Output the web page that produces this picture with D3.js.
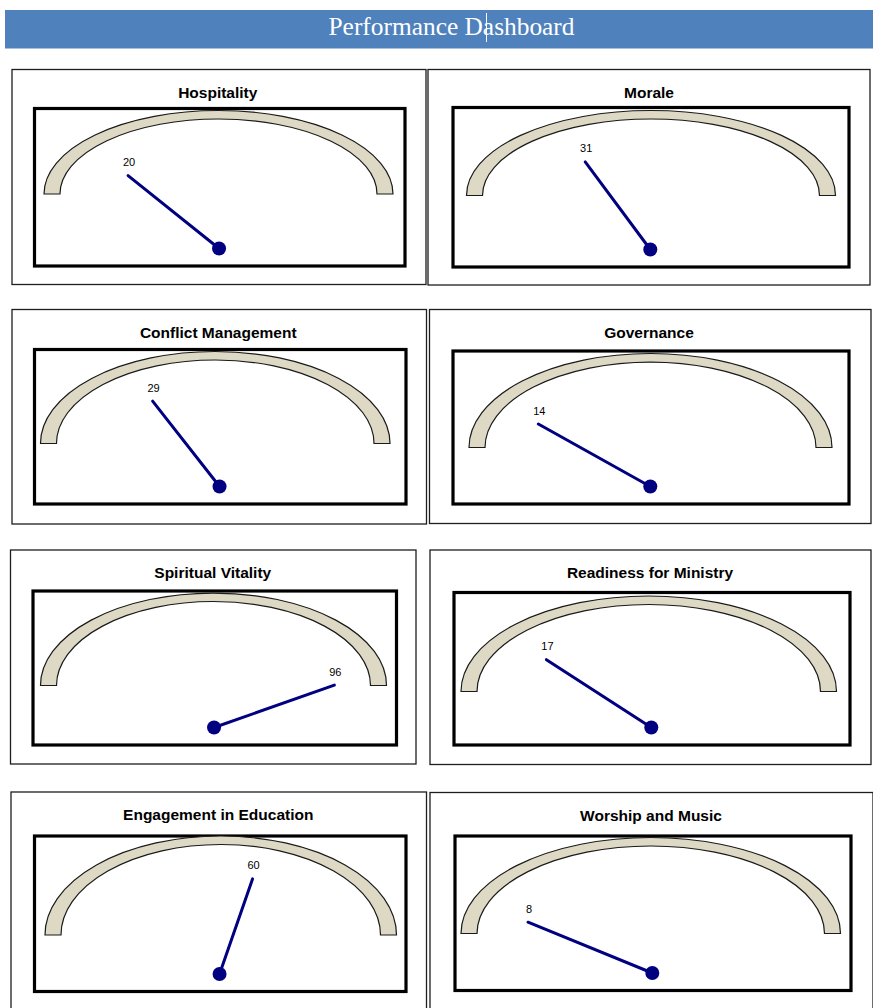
<!DOCTYPE html>
<html>
<head>
<meta charset="utf-8">
<script src="https://cdn.jsdelivr.net/npm/d3@7"></script>
<style>
  html, body { margin: 0; padding: 0; background: #ffffff; }
  svg { display: block; }
</style>
</head>
<body>
<div id="chart"></div>
<script>
// ---- data ----
const pageTitle = "Performance Dashboard";
const gaugeNames = [
  "Hospitality", "Morale",
  "Conflict Management", "Governance",
  "Spiritual Vitality", "Readiness for Ministry",
  "Engagement in Education", "Worship and Music"
];
const gaugeValues = [20, 31, 29, 14, 96, 17, 60, 8];
const gaugeDomain = [0, 100];

// ---- layout: frame of each panel, its dial box and its arc extent ----
// outer / dial: [x0, y0, x1, y1]; arc: [left, top, right, base]
const panelFrames = [
  { outer: [12, 69.5, 426, 284.5],  dial: [34.5, 108.5, 405, 266],   arc: [44, 110.5, 393, 194] },
  { outer: [428, 69.5, 870, 285],   dial: [453, 107.5, 849, 267],    arc: [466.5, 110.5, 835.5, 195.5] },
  { outer: [12, 309.5, 426.5, 524], dial: [34.5, 349.5, 406, 504],   arc: [40.5, 351.5, 390, 443.5] },
  { outer: [429.5, 309.5, 871, 523.5], dial: [453, 351, 849, 504],   arc: [469, 353.5, 832, 447.5] },
  { outer: [10.5, 550, 416, 764],   dial: [33, 591, 396.5, 745],     arc: [40.5, 593, 386.5, 685.5] },
  { outer: [430, 550, 871, 764.5],  dial: [454, 592.5, 850, 745],    arc: [461, 596, 836.5, 691.5] },
  { outer: [11, 792, 426.5, 1020],  dial: [34.5, 836, 406, 991.5],   arc: [45, 836, 396.5, 935] },
  { outer: [430, 792.5, 873, 1020], dial: [455, 836, 851, 990.5],    arc: [461, 837.5, 840.5, 933.5] }
];

const W = 873, H = 1008;
const svg = d3.select("#chart").append("svg")
  .attr("width", W).attr("height", H)
  .attr("viewBox", `0 0 ${W} ${H}`);

// ---- page heading bar ----
svg.append("rect")
  .attr("x", 5).attr("y", 10).attr("width", W - 5).attr("height", 38.5)
  .attr("fill", "#4f81bd");
svg.append("text")
  .attr("x", 451.5).attr("y", 34.5)
  .attr("text-anchor", "middle")
  .attr("font-family", "'Liberation Serif', 'DejaVu Serif', serif")
  .attr("font-size", 25.5)
  .attr("textLength", 246)
  .attr("lengthAdjust", "spacingAndGlyphs")
  .attr("fill", "#ffffff")
  .text(pageTitle);
// text caret
svg.append("line")
  .attr("x1", 486.5).attr("x2", 486.5).attr("y1", 13).attr("y2", 42)
  .attr("stroke", "#ffffff").attr("stroke-width", 1);

// value -> needle angle (degrees, measured from the left horizontal)
const angleScale = d3.scaleLinear().domain(gaugeDomain).range([20, 160]);

const gauges = gaugeNames.map((name, i) => ({ name, value: gaugeValues[i], frame: panelFrames[i] }));

const panel = svg.selectAll("g.panel")
  .data(gauges)
  .join("g")
  .attr("class", "panel");

// outer frame
panel.append("rect")
  .attr("x", d => d.frame.outer[0])
  .attr("y", d => d.frame.outer[1])
  .attr("width", d => d.frame.outer[2] - d.frame.outer[0])
  .attr("height", d => d.frame.outer[3] - d.frame.outer[1])
  .attr("fill", "#ffffff")
  .attr("stroke", "#1e1e1e")
  .attr("stroke-width", 1.3);

// title
panel.append("text")
  .attr("x", d => (d.frame.dial[0] + d.frame.dial[2]) / 2 - 2)
  .attr("y", d => d.frame.outer[1] + 28)
  .attr("text-anchor", "middle")
  .attr("font-family", "'Liberation Sans', Arial, sans-serif")
  .attr("font-weight", "bold")
  .attr("font-size", 15.5)
  .attr("fill", "#000000")
  .text(d => d.name);

// dial box
panel.append("rect")
  .attr("x", d => d.frame.dial[0])
  .attr("y", d => d.frame.dial[1])
  .attr("width", d => d.frame.dial[2] - d.frame.dial[0])
  .attr("height", d => d.frame.dial[3] - d.frame.dial[1])
  .attr("fill", "#ffffff")
  .attr("stroke", "#000000")
  .attr("stroke-width", 3.2);

// scale band: half-ellipse ring with flat ends
const bandSide = 16, bandTop = 8.5;
function bandPath(a) {
  const [l, t, r, base] = a;
  const cx = (l + r) / 2;
  const Rx = (r - l) / 2, Ry = base - t;
  const rx = Rx - bandSide, ry = Ry - bandTop;
  return `M${cx - Rx},${base}` +
    `A${Rx},${Ry} 0 0 1 ${cx + Rx},${base}` +
    `L${cx + rx},${base}` +
    `A${rx},${ry} 0 0 0 ${cx - rx},${base}Z`;
}
panel.append("path")
  .attr("d", d => bandPath(d.frame.arc))
  .attr("fill", "#ddd9c4")
  .attr("stroke", "#1a1a1a")
  .attr("stroke-width", 1.2);

// needle geometry
function pivotOf(d) {
  const [x0, , x1, y1] = d.frame.dial;
  return [(x0 + x1) / 2 - 0.7, y1 - 17.5];
}
function tipOf(d) {
  const [px, py] = pivotOf(d);
  const w = d.frame.dial[2] - d.frame.dial[0];
  const a = 0.367 * w, b = 98;
  const th = angleScale(d.value) * Math.PI / 180;
  return [px - a * Math.cos(th), py - b * Math.sin(th)];
}

panel.append("line")
  .attr("x1", d => pivotOf(d)[0])
  .attr("y1", d => pivotOf(d)[1])
  .attr("x2", d => tipOf(d)[0])
  .attr("y2", d => tipOf(d)[1])
  .attr("stroke", "#000080")
  .attr("stroke-width", 3)
  .attr("stroke-linecap", "round");

panel.append("circle")
  .attr("cx", d => pivotOf(d)[0])
  .attr("cy", d => pivotOf(d)[1])
  .attr("r", 7)
  .attr("fill", "#000080");

// value label above the needle tip
panel.append("text")
  .attr("x", d => tipOf(d)[0] + 1)
  .attr("y", d => tipOf(d)[1] - 9.5)
  .attr("text-anchor", "middle")
  .attr("font-family", "'Liberation Sans', Arial, sans-serif")
  .attr("font-size", 11)
  .attr("fill", "#000000")
  .text(d => d.value);
</script>
</body>
</html>
